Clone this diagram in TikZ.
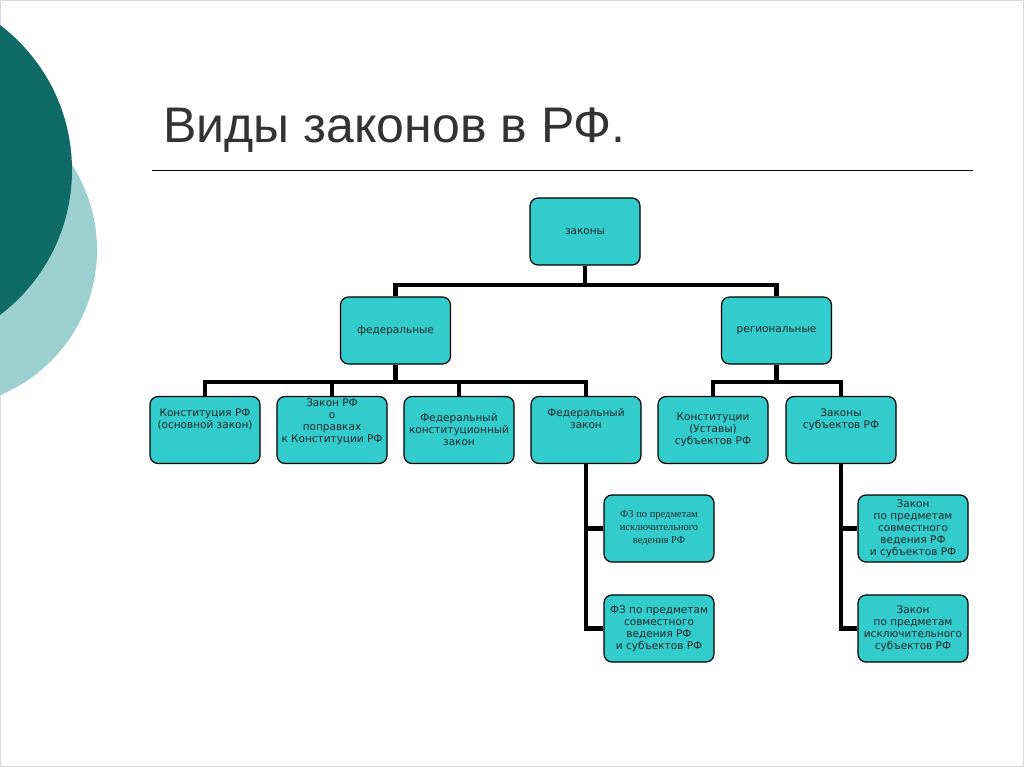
\documentclass[tikz,border=0pt]{standalone}
\usepackage{fontspec}
\setmainfont{DejaVu Sans}
\newfontfamily\titlefont{Liberation Sans}
\newfontfamily\serfont{Liberation Serif}
\definecolor{boxc}{HTML}{33CCCC}
\definecolor{dteal}{HTML}{0E6B66}
\definecolor{lteal}{HTML}{9CCFCF}
\begin{document}
\begin{tikzpicture}[x=1pt,y=-1pt,
  bx/.style={draw=black,line width=1.2pt,fill=boxc,rounded corners=8pt,minimum width=110pt,minimum height=67pt,align=center,font=\fontsize{10.5}{12}\selectfont,inner sep=0pt,text=black!85},
  ln/.style={line width=4.5pt}]
\useasboundingbox (0,0) rectangle (1024,767);
\fill[white] (0,0) rectangle (1024,767);
\draw[black!15] (0.5,0.5) rectangle (1023.5,766.5);
\begin{scope}
\clip (0,0) rectangle (1024,767);
\fill[lteal] (-60,250) circle (157);
\fill[dteal] (-110,170) circle (182);
\end{scope}
\node[anchor=west,font=\titlefont\fontsize{50}{56}\selectfont,text=black!80] (title) at (160,130) {Виды законов в РФ.};
\draw[line width=0.8pt] (152,170) -- (973,170);
\node[bx] (z) at (585,231.5) {законы};
\node[bx] (f) at (395.5,330.5) {федеральные};
\node[bx] (r) at (776.5,330.5) {региональные};
\node[bx] (a) at (205,430) {Конституция РФ\\(основной закон)\\[10pt]};
\node[bx] (b) at (332,430) {Закон РФ\\о\\поправках\\к Конституции РФ\\[6pt]};
\node[bx] (c) at (459,430) {Федеральный\\конституционный\\закон};
\node[bx] (d) at (586,430) {Федеральный\\закон\\[10pt]};
\node[bx] (e) at (713,430) {Конституции\\(Уставы)\\субъектов РФ};
\node[bx] (g) at (841,430) {Законы\\субъектов РФ\\[10pt]};
\node[bx,font=\serfont\fontsize{10.5}{13}\selectfont] (d1) at (659,528.5) {ФЗ по предметам\\исключительного\\ведения РФ};
\node[bx] (d2) at (659,628.5) {ФЗ по предметам\\совместного\\ведения РФ\\и субъектов РФ};
\node[bx] (g1) at (913,528.5) {Закон\\по предметам\\совместного\\ведения РФ\\и субъектов РФ};
\node[bx] (g2) at (913,628.5) {Закон\\по предметам\\исключительного\\субъектов РФ};
\draw[ln] (z.south) -- (585,285) coordinate (zh);
\draw[ln] (f.north) |- (zh) -| (r.north);
\draw[ln] (f.south) -- (395.5,382) coordinate (fh);
\draw[ln] (a.north) |- (fh) -| (d.north);
\draw[ln] (b.north) -- (b.north|-fh);
\draw[ln] (c.north) -- (c.north|-fh);
\draw[ln] (r.south) -- (776.5,382) coordinate (rh);
\draw[ln] (e.north) |- (rh) -| (g.north);
\draw[ln] (d.south) |- (d2.west);
\draw[ln] (d.south|-d1.west) -- (d1.west);
\draw[ln] (g.south) |- (g2.west);
\draw[ln] (g.south|-g1.west) -- (g1.west);
\end{tikzpicture}
\end{document}
